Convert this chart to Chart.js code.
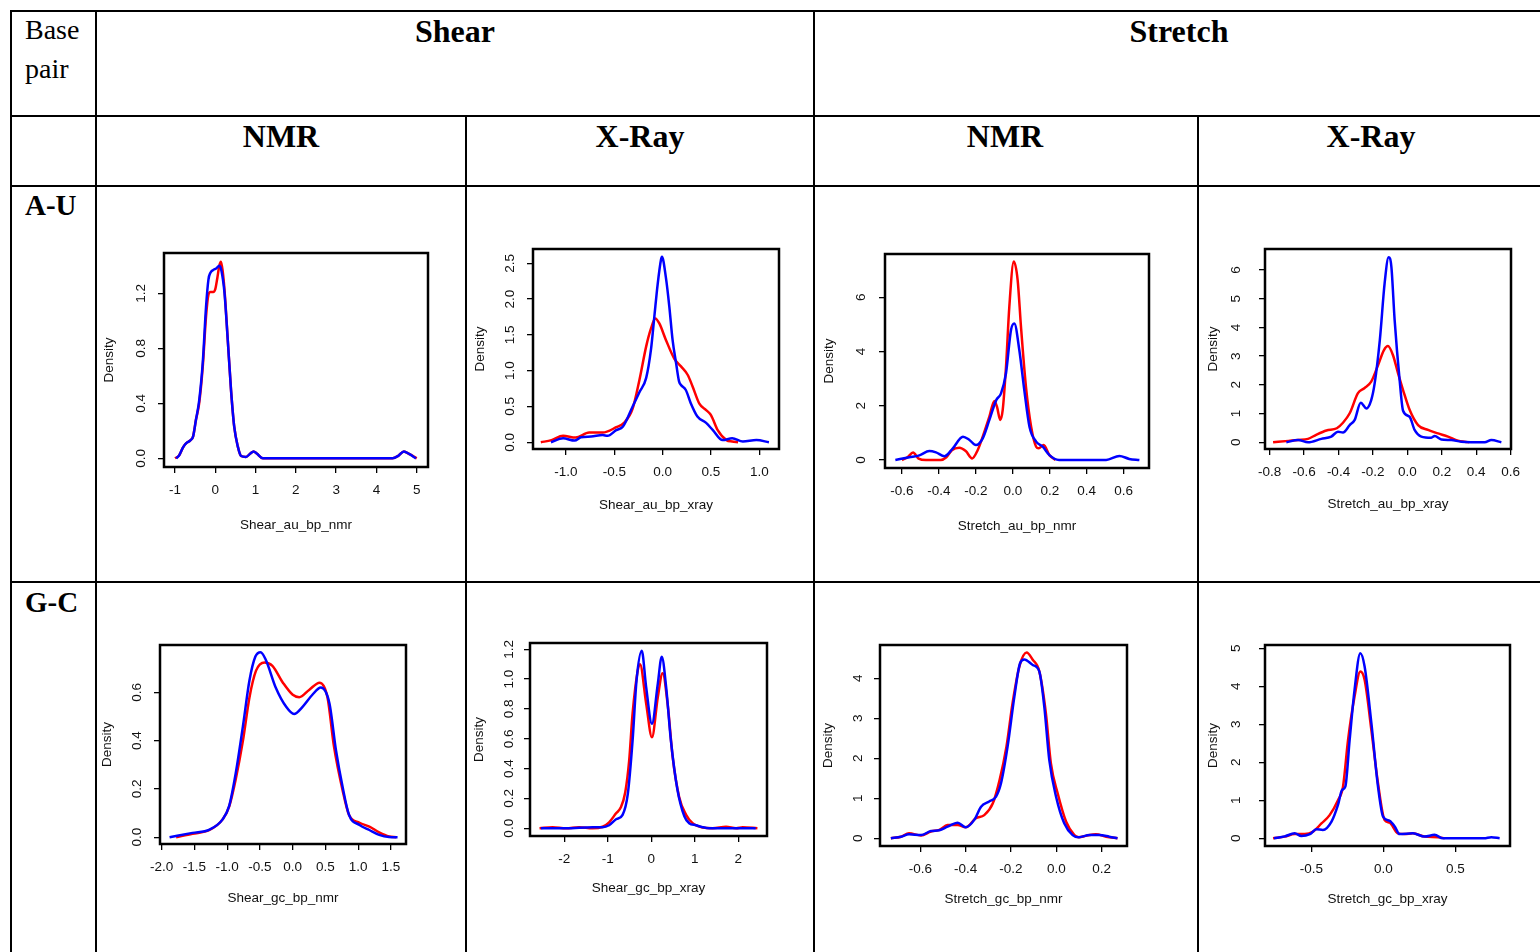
<!DOCTYPE html>
<html>
<head>
<meta charset="utf-8">
<script src="https://cdn.jsdelivr.net/npm/chart.js@4.4.1/dist/chart.umd.min.js"></script>
<style>
  html, body { margin: 0; padding: 0; width: 1540px; height: 952px; overflow: hidden; background: #fff; }
  .ln { position: absolute; background: #000; }
  .txt { position: absolute; font-family: "Liberation Serif", "Times New Roman", serif; color: #000; white-space: nowrap; }
  .head { font-weight: bold; font-size: 32px; transform: translate(-50%, -50%); }
  .row { font-weight: bold; font-size: 29px; transform: translate(0, -50%); }
  .corner { font-size: 28px; line-height: 39px; }
  .plot { position: absolute; }
</style>
</head>
<body>
<script>
// red / blue density curves, [x, density]
const shearAuNmrRed = [[-1.0,0],[-0.9,0.02],[-0.8,0.08],[-0.72,0.11],[-0.62,0.13],[-0.55,0.16],[-0.48,0.28],[-0.4,0.4],[-0.31,0.67],[-0.23,1.03],[-0.17,1.19],[-0.12,1.21],[-0.05,1.21],[0.0,1.23],[0.05,1.31],[0.1,1.4],[0.14,1.43],[0.18,1.37],[0.23,1.22],[0.31,0.86],[0.39,0.5],[0.47,0.23],[0.56,0.085],[0.64,0.017],[0.76,0.01],[0.87,0.035],[0.95,0.05],[1.03,0.035],[1.18,0],[4.4,0],[4.55,0.02],[4.68,0.05],[4.82,0.03],[5.0,0]];
const shearAuNmrBlue = [[-0.97,0],[-0.9,0.02],[-0.8,0.08],[-0.72,0.11],[-0.62,0.13],[-0.55,0.16],[-0.48,0.28],[-0.4,0.42],[-0.31,0.7],[-0.23,1.1],[-0.17,1.3],[-0.12,1.35],[-0.05,1.37],[0.02,1.38],[0.1,1.4],[0.14,1.38],[0.19,1.3],[0.23,1.2],[0.31,0.86],[0.39,0.5],[0.47,0.23],[0.56,0.085],[0.64,0.017],[0.76,0.01],[0.87,0.035],[0.95,0.05],[1.03,0.035],[1.18,0],[4.4,0],[4.55,0.02],[4.68,0.05],[4.82,0.03],[4.98,0]];

const shearAuXrayRed = [[-1.26,0],[-1.15,0.03],[-1.03,0.09],[-0.9,0.065],[-0.76,0.135],[-0.62,0.135],[-0.48,0.21],[-0.4,0.27],[-0.31,0.47],[-0.24,0.87],[-0.17,1.34],[-0.12,1.59],[-0.076,1.73],[-0.034,1.66],[0.034,1.43],[0.12,1.17],[0.19,1.06],[0.26,0.94],[0.31,0.78],[0.38,0.54],[0.45,0.45],[0.5,0.38],[0.57,0.17],[0.66,0.03],[0.72,0.01],[0.78,0]];
const shearAuXrayBlue = [[-1.155,0],[-1.03,0.056],[-0.91,0.023],[-0.845,0.07],[-0.74,0.08],[-0.62,0.1],[-0.57,0.09],[-0.48,0.17],[-0.41,0.22],[-0.31,0.5],[-0.24,0.7],[-0.17,0.9],[-0.12,1.3],[-0.086,1.75],[-0.052,2.2],[-0.017,2.55],[-0.007,2.59],[0.034,2.3],[0.069,1.9],[0.103,1.43],[0.14,1.1],[0.17,0.85],[0.19,0.8],[0.24,0.73],[0.29,0.55],[0.36,0.36],[0.45,0.27],[0.52,0.17],[0.62,0.03],[0.72,0.056],[0.83,0.01],[0.97,0.03],[1.1,0]];

const stretchAuNmrRed = [[-0.6,0],[-0.57,0.1],[-0.54,0.28],[-0.51,0.05],[-0.47,0],[-0.39,0],[-0.36,0.1],[-0.33,0.36],[-0.29,0.45],[-0.255,0.33],[-0.22,0.06],[-0.19,0.37],[-0.163,0.86],[-0.127,1.6],[-0.1,2.18],[-0.086,1.97],[-0.068,1.48],[-0.055,1.84],[-0.037,3.44],[-0.019,5.66],[0.005,7.32],[0.026,6.64],[0.044,4.92],[0.071,2.7],[0.099,1.23],[0.126,0.49],[0.14,0.43],[0.167,0.55],[0.198,0.18],[0.23,0]];
const stretchAuNmrBlue = [[-0.636,0],[-0.56,0.1],[-0.506,0.17],[-0.452,0.33],[-0.416,0.28],[-0.37,0.14],[-0.326,0.42],[-0.27,0.86],[-0.235,0.74],[-0.2,0.55],[-0.163,0.8],[-0.127,1.48],[-0.09,2.21],[-0.064,2.46],[-0.037,3.2],[-0.01,4.8],[0.008,5.04],[0.035,4.06],[0.062,2.58],[0.09,1.23],[0.126,0.68],[0.162,0.49],[0.198,0.18],[0.25,0],[0.505,0],[0.577,0.15],[0.63,0.04],[0.685,0]];

const stretchAuXrayRed = [[-0.78,0],[-0.69,0.05],[-0.635,0.08],[-0.577,0.12],[-0.53,0.26],[-0.47,0.41],[-0.41,0.49],[-0.374,0.68],[-0.335,1.01],[-0.287,1.71],[-0.25,1.88],[-0.21,2.11],[-0.17,2.69],[-0.136,3.21],[-0.113,3.35],[-0.084,3.04],[-0.054,2.4],[-0.025,1.82],[0.013,1.13],[0.062,0.6],[0.12,0.43],[0.178,0.31],[0.236,0.2],[0.294,0.06],[0.333,0.02],[0.36,0]];
const stretchAuXrayBlue = [[-0.703,0],[-0.635,0.08],[-0.577,0],[-0.5,0.12],[-0.442,0.2],[-0.403,0.37],[-0.374,0.34],[-0.335,0.6],[-0.306,0.78],[-0.271,1.38],[-0.238,1.18],[-0.21,1.47],[-0.19,2.05],[-0.16,3.56],[-0.132,5.54],[-0.109,6.44],[-0.093,6.12],[-0.074,4.26],[-0.045,2.17],[-0.025,1.1],[0.013,0.89],[0.042,0.43],[0.081,0.2],[0.139,0.16],[0.159,0.22],[0.197,0.1],[0.255,0.08],[0.313,0.02],[0.449,0],[0.488,0.08],[0.546,0]];

const shearGcNmrRed = [[-1.78,0],[-1.53,0.014],[-1.27,0.03],[-1.07,0.074],[-0.97,0.127],[-0.87,0.24],[-0.76,0.4],[-0.66,0.58],[-0.56,0.69],[-0.43,0.724],[-0.31,0.71],[-0.15,0.64],[0.0,0.59],[0.1,0.58],[0.25,0.61],[0.41,0.64],[0.53,0.58],[0.63,0.375],[0.76,0.196],[0.86,0.092],[1.02,0.06],[1.17,0.044],[1.32,0.02],[1.47,0.003],[1.58,0]];
const shearGcNmrBlue = [[-1.88,0],[-1.53,0.018],[-1.27,0.032],[-1.07,0.074],[-0.97,0.13],[-0.87,0.265],[-0.76,0.46],[-0.66,0.65],[-0.57,0.748],[-0.49,0.766],[-0.41,0.734],[-0.26,0.62],[-0.1,0.54],[0.02,0.51],[0.15,0.54],[0.3,0.59],[0.43,0.62],[0.56,0.555],[0.66,0.36],[0.76,0.21],[0.86,0.092],[1.02,0.051],[1.17,0.03],[1.32,0.01],[1.47,0.001],[1.6,0]];

const shearGcXrayRed = [[-2.57,0],[-2.27,0.007],[-1.96,0],[-1.66,0.007],[-1.35,0],[-1.12,0.01],[-0.97,0.04],[-0.81,0.1],[-0.7,0.14],[-0.6,0.24],[-0.51,0.45],[-0.43,0.77],[-0.31,1.06],[-0.26,1.1],[-0.12,0.84],[0.015,0.61],[0.15,0.88],[0.26,1.04],[0.38,0.82],[0.49,0.48],[0.64,0.21],[0.8,0.09],[0.95,0.034],[1.18,0.005],[1.41,0],[1.72,0.01],[1.95,0],[2.1,0.007],[2.44,0]];
const shearGcXrayBlue = [[-2.54,0],[-1.96,0],[-1.35,0.007],[-1.12,0.007],[-0.97,0.02],[-0.81,0.06],[-0.66,0.09],[-0.54,0.23],[-0.43,0.59],[-0.34,0.99],[-0.22,1.19],[-0.12,0.95],[0.015,0.7],[0.15,0.97],[0.24,1.15],[0.34,0.95],[0.45,0.59],[0.6,0.26],[0.76,0.08],[0.87,0.034],[1.03,0.02],[1.18,0.007],[1.33,0],[1.87,0],[2.4,0]];

const stretchGcNmrRed = [[-0.73,0],[-0.685,0.04],[-0.65,0.125],[-0.597,0.07],[-0.553,0.17],[-0.516,0.21],[-0.48,0.33],[-0.435,0.33],[-0.4,0.275],[-0.355,0.5],[-0.318,0.58],[-0.28,0.875],[-0.25,1.46],[-0.22,2.29],[-0.193,3.375],[-0.163,4.29],[-0.131,4.64],[-0.104,4.46],[-0.075,4.17],[-0.046,3.125],[-0.024,1.875],[0.006,1.125],[0.043,0.42],[0.08,0.08],[0.1,0.025],[0.13,0.06],[0.175,0.1],[0.22,0.04],[0.27,0]];
const stretchGcNmrBlue = [[-0.73,0],[-0.685,0.04],[-0.65,0.1],[-0.597,0.08],[-0.553,0.18],[-0.516,0.2],[-0.48,0.29],[-0.435,0.39],[-0.4,0.275],[-0.362,0.46],[-0.332,0.79],[-0.296,0.92],[-0.266,1.04],[-0.244,1.375],[-0.215,2.29],[-0.185,3.54],[-0.16,4.375],[-0.141,4.47],[-0.104,4.33],[-0.075,4.17],[-0.053,3.29],[-0.031,1.96],[-0.001,1.04],[0.035,0.375],[0.072,0.08],[0.1,0.025],[0.146,0.08],[0.19,0.08],[0.234,0.04],[0.27,0]];

const stretchGcXrayRed = [[-0.766,0],[-0.685,0.044],[-0.616,0.11],[-0.546,0.11],[-0.488,0.175],[-0.43,0.39],[-0.373,0.61],[-0.315,1.0],[-0.28,1.36],[-0.245,2.59],[-0.2,3.73],[-0.16,4.39],[-0.13,4.17],[-0.083,2.85],[-0.037,1.45],[0.009,0.48],[0.044,0.41],[0.1,0.13],[0.148,0.11],[0.206,0.13],[0.287,0.044],[0.38,0.03],[0.426,0]];
const stretchGcXrayBlue = [[-0.76,0],[-0.685,0.05],[-0.616,0.13],[-0.57,0.06],[-0.51,0.11],[-0.465,0.24],[-0.42,0.22],[-0.36,0.44],[-0.315,0.88],[-0.287,1.27],[-0.264,1.36],[-0.234,2.59],[-0.2,3.9],[-0.16,4.87],[-0.13,4.52],[-0.083,3.03],[-0.037,1.36],[-0.002,0.57],[0.044,0.46],[0.079,0.31],[0.113,0.11],[0.206,0.13],[0.287,0.044],[0.356,0.09],[0.414,0],[0.7,0],[0.75,0.03],[0.808,0]];

// tick values
const shearAuNmrXTicks = [-1, 0, 1, 2, 3, 4, 5];
const shearAuNmrYTicks = [0, 0.4, 0.8, 1.2];
const shearAuXrayXTicks = [-1, -0.5, 0, 0.5, 1];
const shearAuXrayYTicks = [0, 0.5, 1, 1.5, 2, 2.5];
const stretchAuNmrXTicks = [-0.6, -0.4, -0.2, 0, 0.2, 0.4, 0.6];
const stretchAuNmrYTicks = [0, 2, 4, 6];
const stretchAuXrayXTicks = [-0.8, -0.6, -0.4, -0.2, 0, 0.2, 0.4, 0.6];
const stretchAuXrayYTicks = [0, 1, 2, 3, 4, 5, 6];
const shearGcNmrXTicks = [-2, -1.5, -1, -0.5, 0, 0.5, 1, 1.5];
const shearGcNmrYTicks = [0, 0.2, 0.4, 0.6];
const shearGcXrayXTicks = [-2, -1, 0, 1, 2];
const shearGcXrayYTicks = [0, 0.2, 0.4, 0.6, 0.8, 1, 1.2];
const stretchGcNmrXTicks = [-0.6, -0.4, -0.2, 0, 0.2];
const stretchGcNmrYTicks = [0, 1, 2, 3, 4];
const stretchGcXrayXTicks = [-0.5, 0, 0.5];
const stretchGcXrayYTicks = [0, 1, 2, 3, 4, 5];

const RED = "#ff0000";
const BLUE = "#0000ff";
const FONT = { family: '"Liberation Sans", Arial, sans-serif', size: 13.5 };

// box = plot frame on the page; xr / yr = axis ranges
const panels = [
  { title: "Shear_au_bp_nmr", red: shearAuNmrRed, blue: shearAuNmrBlue, xt: shearAuNmrXTicks, yt: shearAuNmrYTicks, xd: 0, yd: 1,
    xr: [-1.273, 5.28], yr: [-0.063, 1.493], box: [164, 253, 428, 467], yTitle: 55, xTitle: 58, yLab: 23 },
  { title: "Shear_au_bp_xray", red: shearAuXrayRed, blue: shearAuXrayBlue, xt: shearAuXrayXTicks, yt: shearAuXrayYTicks, xd: 1, yd: 1,
    xr: [-1.341, 1.204], yr: [-0.094, 2.70], box: [533, 249, 779, 449], yTitle: 53, xTitle: 56, yLab: 23 },
  { title: "Stretch_au_bp_nmr", red: stretchAuNmrRed, blue: stretchAuNmrBlue, xt: stretchAuNmrXTicks, yt: stretchAuNmrYTicks, xd: 1, yd: 0,
    xr: [-0.692, 0.737], yr: [-0.295, 7.60], box: [885, 254, 1149, 468], yTitle: 56, xTitle: 58, yLab: 24 },
  { title: "Stretch_au_bp_xray", red: stretchAuXrayRed, blue: stretchAuXrayBlue, xt: stretchAuXrayXTicks, yt: stretchAuXrayYTicks, xd: 1, yd: 0,
    xr: [-0.827, 0.602], yr: [-0.233, 6.73], box: [1265, 249, 1511, 449], yTitle: 52, xTitle: 55, yLab: 29 },
  { title: "Shear_gc_bp_nmr", red: shearGcNmrRed, blue: shearGcNmrBlue, xt: shearGcNmrXTicks, yt: shearGcNmrYTicks, xd: 1, yd: 1,
    xr: [-2.026, 1.729], yr: [-0.028, 0.796], box: [160, 645, 406, 844], yTitle: 53, xTitle: 54, yLab: 23 },
  { title: "Shear_gc_bp_xray", red: shearGcXrayRed, blue: shearGcXrayBlue, xt: shearGcXrayXTicks, yt: shearGcXrayYTicks, xd: 0, yd: 1,
    xr: [-2.789, 2.66], yr: [-0.052, 1.242], box: [530, 643, 767, 836], yTitle: 51, xTitle: 52, yLab: 21 },
  { title: "Stretch_gc_bp_nmr", red: stretchGcNmrRed, blue: stretchGcNmrBlue, xt: stretchGcNmrXTicks, yt: stretchGcNmrYTicks, xd: 1, yd: 0,
    xr: [-0.778, 0.312], yr: [-0.193, 4.83], box: [880, 645, 1127, 846], yTitle: 52, xTitle: 53, yLab: 22 },
  { title: "Stretch_gc_bp_xray", red: stretchGcXrayRed, blue: stretchGcXrayBlue, xt: stretchGcXrayXTicks, yt: stretchGcXrayYTicks, xd: 1, yd: 0,
    xr: [-0.822, 0.88], yr: [-0.203, 5.087], box: [1265, 645, 1510, 846], yTitle: 52, xTitle: 53, yLab: 29 }
];

// table rules: [left, top, width, height]
const rules = [
  [10, 10, 1530, 2], [10, 115, 1530, 2], [10, 185, 1530, 2], [10, 581, 1530, 2],
  [10, 10, 2, 942], [95, 10, 2, 942], [465, 115, 2, 837], [813, 10, 2, 942], [1197, 115, 2, 837]
];

function addDiv(cls, css, html) {
  const d = document.createElement("div");
  d.className = cls;
  Object.assign(d.style, css);
  if (html) d.innerHTML = html;
  document.body.appendChild(d);
  return d;
}

rules.forEach(([l, t, w, h]) => addDiv("ln", { left: l + "px", top: t + "px", width: w + "px", height: h + "px" }));

addDiv("txt corner", { left: "25px", top: "10px" }, "Base<br>pair");
addDiv("txt head", { left: "455px", top: "31px" }, "Shear");
addDiv("txt head", { left: "1179px", top: "31px" }, "Stretch");
addDiv("txt head", { left: "281px", top: "136px" }, "NMR");
addDiv("txt head", { left: "640px", top: "136px" }, "X-Ray");
addDiv("txt head", { left: "1005px", top: "136px" }, "NMR");
addDiv("txt head", { left: "1371px", top: "136px" }, "X-Ray");
addDiv("txt row", { left: "25px", top: "205px" }, "A-U");
addDiv("txt row", { left: "25px", top: "602px" }, "G-C");

const framePlugin = {
  id: "frame",
  afterDraw(chart) {
    const { ctx, chartArea: a } = chart;
    ctx.save();
    ctx.strokeStyle = "#000";
    ctx.lineWidth = 2.5;
    ctx.strokeRect(a.left, a.top, a.right - a.left, a.bottom - a.top);
    ctx.restore();
  }
};

const measure = document.createElement("canvas").getContext("2d");
measure.font = `${FONT.size}px ${FONT.family}`;

function renderPanel(p) {
  const T = 36, R = 36;
  const half = FONT.size * 0.6; // half a title line
  const L = Math.round(p.yTitle + half);
  const B = Math.round(p.xTitle + half);
  const [x0, y0, x1, y1] = p.box;
  const w = x1 - x0 + L + R;
  const h = y1 - y0 + T + B;

  const wrap = addDiv("plot", { left: (x0 - L) + "px", top: (y0 - T) + "px", width: w + "px", height: h + "px" });
  const canvas = document.createElement("canvas");
  canvas.width = w;
  canvas.height = h;
  wrap.appendChild(canvas);

  const yLabels = p.yt.map((v) => v.toFixed(p.yd));
  const widest = Math.max(...yLabels.map((s) => measure.measureText(s).width));
  const tickLen = 6;
  const grid = { drawOnChartArea: false, tickLength: tickLen, color: "#000", lineWidth: 1.3 };

  new Chart(canvas, {
    type: "line",
    data: {
      datasets: [
        { data: p.blue.map(([x, y]) => ({ x, y })), borderColor: BLUE, borderWidth: 2.5, pointRadius: 0, cubicInterpolationMode: "monotone", fill: false },
        { data: p.red.map(([x, y]) => ({ x, y })), borderColor: RED, borderWidth: 2.5, pointRadius: 0, cubicInterpolationMode: "monotone", fill: false }
      ]
    },
    options: {
      responsive: false,
      animation: false,
      events: [],
      layout: { padding: { top: T, right: R, left: 0, bottom: 0 } },
      plugins: { legend: { display: false }, tooltip: { enabled: false } },
      scales: {
        x: {
          type: "linear",
          min: p.xr[0],
          max: p.xr[1],
          afterBuildTicks: (s) => { s.ticks = p.xt.map((v) => ({ value: v })); },
          afterFit: (s) => { s.height = B; },
          grid,
          border: { display: false },
          ticks: { autoSkip: false, maxRotation: 0, padding: 9, font: FONT, color: "#111", callback: (v) => Number(v).toFixed(p.xd) },
          title: { display: true, text: p.title, font: FONT, color: "#111", padding: 0 }
        },
        y: {
          type: "linear",
          min: p.yr[0],
          max: p.yr[1],
          afterBuildTicks: (s) => { s.ticks = p.yt.map((v) => ({ value: v })); },
          afterFit: (s) => { s.width = L; },
          grid,
          border: { display: false },
          ticks: {
            autoSkip: false, minRotation: 90, maxRotation: 90, crossAlign: "center",
            padding: Math.max(0, p.yLab - tickLen - widest / 2),
            font: FONT, color: "#111", callback: (v) => Number(v).toFixed(p.yd)
          },
          title: { display: true, text: "Density", font: FONT, color: "#111", padding: 0 }
        }
      }
    },
    plugins: [framePlugin]
  });
}

panels.forEach(renderPanel);
</script>
</body>
</html>
